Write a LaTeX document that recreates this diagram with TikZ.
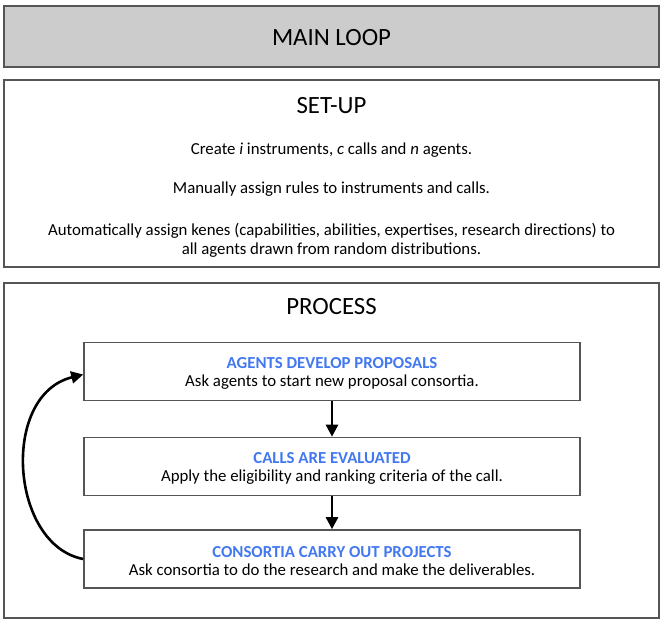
\documentclass[tikz,border=0pt]{standalone}
\usepackage{fontspec}
\setmainfont{Carlito}
\usetikzlibrary{arrows.meta}
\definecolor{titolo}{RGB}{66,120,240}
\definecolor{bordo}{RGB}{85,85,85}
\definecolor{grigio}{RGB}{204,204,204}
\begin{document}
\begin{tikzpicture}[x=1pt, y=-1pt,
    riquadro/.style={draw=bordo, line width=1.6pt},
    grande/.style={font=\fontsize{24.8}{28}\selectfont},
    testo/.style={font=\fontsize{16.8}{19}\selectfont, align=center},
    passo/.style={draw=bordo, line width=1.6pt, minimum width=496pt, minimum height=58pt,
      inner sep=0pt, align=center, font=\fontsize{16.8}{18.5}\selectfont},
    freccia/.style={line width=2.6pt, -{Triangle[length=12pt, width=12pt]}}]

  \useasboundingbox (0,0) rectangle (663,624);

  \draw[riquadro, fill=grigio] (4,6) rectangle (659,67);
  \node[grande] (mainloop) at (331.5,38) {MAIN LOOP};

  \draw[riquadro] (4,80) rectangle (659,267);
  \node[grande] (setup) at (331.5,106) {SET-UP};
  \node[testo] (crea) at (331.5,150) {Create \textit{i} instruments, \textit{c} calls and \textit{n} agents.};
  \node[testo] (regole) at (331.5,189) {Manually assign rules to instruments and calls.};
  \node[testo] (kenes) at (331.5,240) {Automatically assign kenes (capabilities, abilities, expertises, research directions) to\\all agents drawn from random distributions.};

  \draw[riquadro] (4,283) rectangle (659,618);
  \node[grande] (process) at (331.5,307) {PROCESS};

  \node[passo] (proposte) at (332,371.5)
    {\rule{0pt}{15pt}\textcolor{titolo}{\bfseries AGENTS DEVELOP PROPOSALS}\\Ask agents to start new proposal consortia.};
  \node[passo] (valuta) at (332,466.5)
    {\rule{0pt}{15pt}\textcolor{titolo}{\bfseries CALLS ARE EVALUATED}\\Apply the eligibility and ranking criteria of the call.};
  \node[passo] (progetti) at (332,559)
    {\rule{0pt}{15pt}\textcolor{titolo}{\bfseries CONSORTIA CARRY OUT PROJECTS}\\Ask consortia to do the research and make the deliverables.};

  \draw[freccia] (proposte) -- (valuta);
  \draw[freccia] (valuta) -- (progetti);
  \draw[freccia] (progetti.west) .. controls (10,545) and (0,395) .. ([yshift=-3pt]proposte.west);
\end{tikzpicture}
\end{document}
